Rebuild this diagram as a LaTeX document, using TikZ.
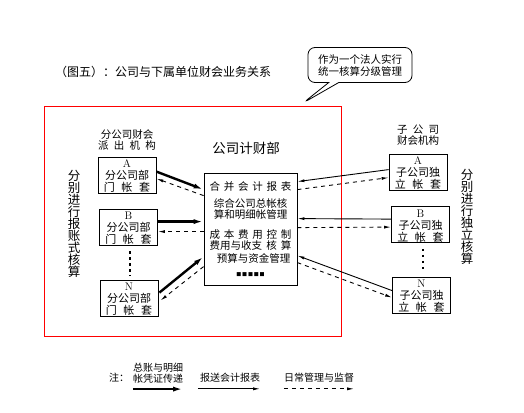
\documentclass[tikz,border=0pt]{standalone}
\usepackage{fontspec}
\newfontfamily\cjk{Noto Sans CJK SC}
\usetikzlibrary{arrows.meta,positioning,calc,shapes.callouts}
\newcommand{\unitletter}[1]{\rule{0pt}{10.5pt}\textrm{#1}}

\begin{document}
\begin{tikzpicture}[
    x=1pt, y=-1pt,
    unit/.style={rectangle, draw, line width=0.8pt, minimum width=58pt, minimum height=36pt, inner sep=0pt, align=center, font=\cjk\fontsize{11}{12}\selectfont},
    center/.style={rectangle, draw, line width=0.8pt, minimum width=93pt, minimum height=112pt, inner sep=0pt, align=center, font=\cjk\fontsize{10.5}{11}\selectfont},
    lbl/.style={font=\cjk\fontsize{10.5}{11.5}\selectfont, align=center, inner sep=0pt},
    vtext/.style={font=\cjk\fontsize{12.5}{12}\selectfont, align=center, inner sep=0pt},
    note/.style={font=\cjk\fontsize{10}{10.5}\selectfont, align=center, inner sep=0pt},
    thickarr/.style={line width=2.4pt, -{Latex[length=10pt,width=5pt]}},
    thinarr/.style={line width=0.9pt, -{Latex[length=7pt,width=3pt]}},
    dasharr/.style={line width=0.9pt, dash pattern=on 4pt off 4pt, -{Latex[length=7pt,width=3pt]}},
    vdots/.style={line width=2.5pt, dash pattern=on 2.5pt off 3.5pt}
]
\useasboundingbox (0,0) rectangle (524,412);

% title and remark
\node[lbl, anchor=west, font=\cjk\fontsize{12}{12}\selectfont] (title) at (55,72) {（图五）：公司与下属单位财会业务关系};
\node[rectangle callout, draw, line width=0.8pt, rounded corners=7pt, minimum width=104pt, minimum height=35pt, inner sep=0pt, align=center, font=\cjk\fontsize{10.5}{12}\selectfont, callout absolute pointer={(303,103)}, callout pointer width=10pt] (remark) at (360,65) {作为一个法人实行\\统一核算分级管理};

\draw[red, line width=1pt] (44,106) rectangle (341,336);

% central office
\node[center] (fin) at (250.5,229) {\makebox[7.8em][s]{合 并 会 计 报 表}\\[6pt]
    综合公司总帐核\\算和明细帐管理\\[9pt]
    \makebox[7.8em][s]{成 本 费 用 控 制}\\\makebox[7.8em][s]{费用与收支 核 算}\\[2pt]
    \hspace{6pt}预算与资金管理\\[3pt]
    {\fontsize{5}{5}\selectfont ■\,■\,■\,■\,■}};
\node[lbl, font=\cjk\fontsize{13.5}{14}\selectfont] (fintitle) at (246,148) {公司计财部};

% branch units
\node[unit] (lA) at (127,175) {\unitletter{A}\\分公司部\\\makebox[4.2em][s]{门 帐 套}};
\node[unit] (lB) at (128.5,227) {\unitletter{B}\\分公司部\\\makebox[4.2em][s]{门 帐 套}};
\node[unit] (lN) at (129,298) {\unitletter{N}\\分公司部\\\makebox[4.2em][s]{门 帐 套}};
\node[lbl, above=6pt of lA] (lhead) {分公司财会\\\makebox[5.5em][s]{派 出 机 构}};
\node[vtext] (lside) at (74,224) {分\\别\\进\\行\\报\\账\\式\\核\\算};

% subsidiaries
\node[unit] (rA) at (418,172) {\unitletter{A}\\子公司独\\\makebox[4.2em][s]{立 帐 套}};
\node[unit] (rB) at (420.5,224.5) {\unitletter{B}\\子公司独\\\makebox[4.2em][s]{立 帐 套}};
\node[unit] (rN) at (421.5,295) {\unitletter{N}\\子公司独\\\makebox[4.2em][s]{立 帐 套}};
\node[lbl, above=8pt of rA] (rhead) {\makebox[4em][s]{子 公 司}\\财会机构};
\node[vtext] (rside) at (467,217) {分\\别\\进\\行\\独\\立\\核\\算};

\draw[vdots] ($(lB.south)+(1.5,6)$) -- ($(lN.north)+(1,-4)$);
\draw[vdots] ($(rB.south)+(2.5,6)$) -- ($(rN.north)+(1.5,-4)$);

% left side flows
\draw[thickarr] ($(lA.north east)+(0,15)$) -- ($(fin.north west)+(0,17)$);
\draw[dasharr] ($(fin.north west)+(0,23)$) -- ($(lA.north east)+(0,22)$);
\draw[thickarr] ($(lB.north east)+(0,13)$) -- ($(fin.north west)+(0,49)$);
\draw[dasharr] ($(fin.north west)+(0,59)$) -- ($(lB.north east)+(0,23)$);
\draw[thickarr] ($(lN.north east)+(1,13)$) -- ($(fin.north west)+(0,84)$);
\draw[dasharr] ($(fin.north west)+(0,94)$) -- ($(lN.north east)+(2,21)$);

% right side flows
\draw[thinarr] ($(rA.north west)+(0,16)$) -- ($(fin.north east)+(0,9)$);
\draw[dasharr] ($(fin.north east)+(0,17)$) -- ($(rA.north west)+(0,24)$);
\draw[thinarr] ($(rB.north west)+(0,13)$) -- ($(fin.north east)+(0,46)$);
\draw[dasharr] ($(fin.north east)+(0,55)$) -- ($(rB.north west)+(0,21)$);
\draw[thinarr] ($(rN.north west)+(0,14)$) -- ($(fin.north east)+(0,83)$);
\draw[dasharr] ($(fin.north east)+(0,90)$) -- ($(rN.north west)+(0,21)$);

% legend
\node[note] (key) at (119,378) {注：};
\node[note] (n1) at (158,373) {总账与明细\\帐凭证传递};
\node[note] (n2) at (230,378) {报送会计报表};
\node[note] (n3) at (319,378) {日常管理与监督};
\draw[thickarr] ($(n1.south west)+(0,6)$) -- ($(n1.south east)+(0,6)$);
\draw[thinarr] ($(n2.south west)+(-2,6)$) -- ($(n2.south east)+(0,6)$);
\draw[dasharr] ($(n3.south west)+(0,6)$) -- ($(n3.south east)+(0,6)$);
\end{tikzpicture}
\end{document}
